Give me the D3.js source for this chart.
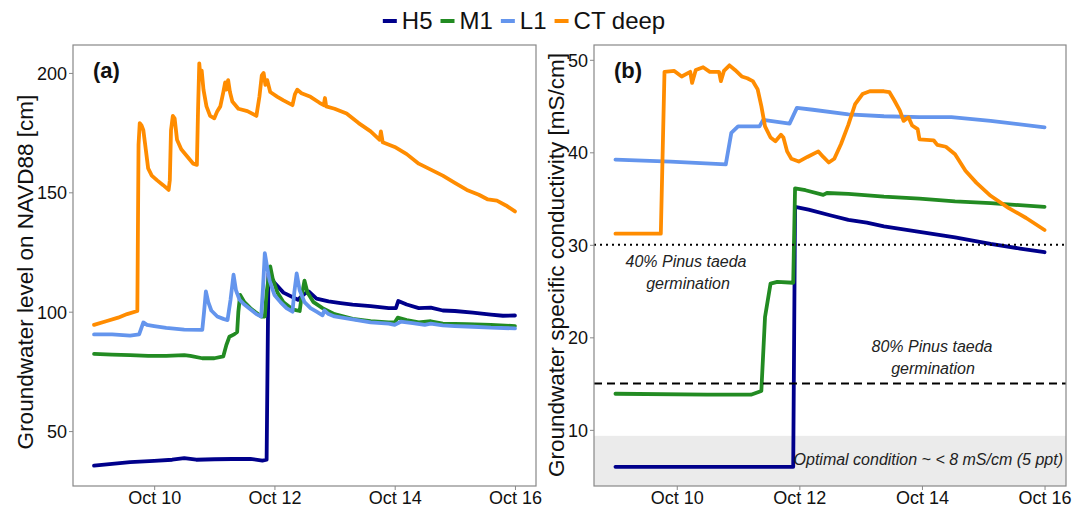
<!DOCTYPE html>
<html>
<head>
<meta charset="utf-8">
<script src="https://cdn.jsdelivr.net/npm/d3@7"></script>
<style>
  body { margin: 0; background: #fff; }
  svg { font-family: "Liberation Sans", Arial, sans-serif; }
</style>
</head>
<body>
<div id="chart"></div>
<script>
// [day of October, value]
const levelH5 = [[9.0,35.5],[9.3,36.3],[9.6,37],[10.0,37.5],[10.3,38],[10.5,38.7],[10.7,38],[11.0,38.2],[11.3,38.3],[11.6,38.4],[11.8,37.6],[11.87,38],[11.9,116],[11.97,113],[12.15,108],[12.39,105],[12.5,107.5],[12.57,108.5],[12.7,105.5],[12.9,104.3],[13.1,103.6],[13.3,103],[13.6,102.3],[13.9,101.5],[14.02,101.5],[14.06,104.5],[14.2,103],[14.4,101.5],[14.6,101.7],[14.8,100.5],[15.0,100.3],[15.3,99.6],[15.6,98.8],[15.8,98.3],[16.0,98.4]];
const levelM1 = [[9.0,82.3],[9.3,82],[9.6,81.8],[9.9,81.5],[10.2,81.5],[10.5,81.8],[10.6,81.5],[10.8,80.5],[11.0,80.5],[11.15,81.3],[11.2,86],[11.25,89.5],[11.33,90.5],[11.38,91.5],[11.4,100],[11.43,107],[11.5,104],[11.6,101.5],[11.7,99.5],[11.78,98],[11.84,98],[11.87,108],[11.93,119],[11.97,114],[12.05,108],[12.15,104],[12.3,101],[12.42,100.3],[12.45,106],[12.5,113],[12.55,108],[12.65,104],[12.8,101.5],[13.0,99],[13.3,97],[13.6,96],[13.9,95.5],[14.0,95.5],[14.05,97.5],[14.2,96.5],[14.4,95.5],[14.6,96],[14.8,95],[15.2,94.8],[15.6,94.5],[16.0,94]];
const levelL1 = [[9.0,90.5],[9.3,90.5],[9.6,90],[9.75,90.5],[9.82,95.5],[9.88,94.5],[10.0,94],[10.2,93.2],[10.5,92.5],[10.8,92.4],[10.83,100],[10.86,108.5],[10.9,104],[10.95,100.5],[11.05,98],[11.15,97],[11.22,96.5],[11.27,105],[11.32,115.5],[11.36,109],[11.42,105],[11.5,103],[11.6,101],[11.7,99],[11.78,98],[11.81,110],[11.84,124.5],[11.87,120],[11.92,113],[12.0,107],[12.1,104],[12.2,101.5],[12.3,100],[12.33,108],[12.37,116],[12.42,109],[12.5,104],[12.6,101.5],[12.7,100],[12.8,98.5],[12.83,100.5],[12.9,99],[13.0,98],[13.3,96.8],[13.6,95.5],[13.9,95],[14.0,94.5],[14.1,95.8],[14.3,95.2],[14.5,94.5],[14.6,95],[14.8,94.3],[15.0,94],[15.3,93.7],[15.6,93.3],[16.0,93]];
const levelCT = [[9.0,94.5],[9.2,96],[9.4,97.5],[9.55,99],[9.72,100.3],[9.74,170],[9.76,179],[9.79,178],[9.82,176],[9.86,168],[9.9,160],[9.96,157],[10.05,155],[10.15,153],[10.24,151],[10.26,155],[10.28,176],[10.31,182],[10.34,181],[10.38,172],[10.45,168],[10.55,165],[10.65,162],[10.71,161.5],[10.73,185],[10.75,204],[10.77,198],[10.79,201],[10.82,193],[10.87,186],[10.93,182],[11.0,181],[11.05,184],[11.1,186],[11.15,192],[11.18,196],[11.2,193],[11.23,197],[11.26,192],[11.3,188],[11.4,185],[11.55,184],[11.7,182],[11.75,190],[11.79,199],[11.82,200],[11.85,195],[11.88,197],[11.93,192],[12.05,190],[12.15,188.5],[12.3,186.5],[12.34,191],[12.38,193],[12.45,191.5],[12.6,190],[12.75,187.5],[12.82,186.5],[12.84,189.5],[12.86,186],[13.0,185],[13.2,183],[13.4,179],[13.6,175.5],[13.75,172],[13.77,175.5],[13.8,171],[14.0,169],[14.2,166],[14.4,162],[14.6,159.5],[14.8,157],[15.0,154],[15.2,151],[15.4,149],[15.55,147],[15.7,146.5],[15.85,144.5],[16.0,142]];

const condH5 = [[9.0,6.0],[10.5,6.0],[11.9,6.0],[11.93,34.1],[12.15,33.8],[12.5,33.2],[12.8,32.7],[13.1,32.4],[13.38,32.0],[13.96,31.4],[14.54,30.8],[15.12,30.1],[15.6,29.6],[16.0,29.2]];
const condM1 = [[9.0,13.9],[10.5,13.8],[11.21,13.8],[11.38,14.2],[11.44,22.2],[11.53,25.8],[11.64,26.0],[11.9,25.9],[11.93,36.1],[12.1,35.9],[12.39,35.4],[12.45,35.6],[12.8,35.5],[13.38,35.2],[13.96,35.0],[14.54,34.7],[15.12,34.5],[16.0,34.1]];
const condL1 = [[9.0,39.2],[9.9,39.0],[10.8,38.7],[10.89,42.1],[11.0,42.8],[11.35,42.8],[11.41,43.5],[11.84,43.1],[11.96,44.8],[12.22,44.6],[12.8,44.1],[13.38,43.9],[13.96,43.8],[14.48,43.8],[15.12,43.4],[16.0,42.7]];
const condCT = [[9.0,31.2],[9.74,31.2],[9.8,48.7],[9.96,48.8],[10.08,48.2],[10.22,48.7],[10.25,47.5],[10.31,48.9],[10.43,49.2],[10.54,48.7],[10.69,48.7],[10.72,47.7],[10.77,48.8],[10.86,49.4],[10.95,48.9],[11.06,48.2],[11.15,48],[11.24,47.7],[11.32,46.8],[11.38,45],[11.44,42.8],[11.53,41.6],[11.61,41.2],[11.7,41.9],[11.74,41.6],[11.8,40.1],[11.87,39.3],[11.99,39],[12.13,39.5],[12.31,40.1],[12.39,39.5],[12.48,38.9],[12.57,39.3],[12.68,40.9],[12.8,43],[12.91,45.2],[13.03,46.3],[13.15,46.6],[13.38,46.6],[13.47,46.5],[13.55,45.6],[13.64,44.5],[13.7,43.4],[13.78,43.8],[13.84,42.9],[13.93,42.5],[13.96,41.4],[14.19,41.3],[14.25,40.8],[14.39,40.6],[14.54,39.8],[14.71,38],[14.89,36.7],[15.12,35.3],[15.41,34],[15.7,32.9],[16.0,31.6]];

const seriesNames = ["H5", "M1", "L1", "CT deep"];
const seriesColors = ["#00008b", "#228b22", "#6495ed", "#ff8c00"];
const dayTicks = [10, 12, 14, 16];
const levelTicks = [50, 100, 150, 200];
const condTicks = [10, 20, 30, 40, 50];
const germ40 = 30;
const germ80 = 15;
const optimalTop = 9.35;

function toDate(day) {
    return new Date(Date.UTC(2018, 9, 1) + (day - 1) * 864e5);
}

const width = 1082, height = 507;
const plotTop = 45, plotBottom = 486;

const svg = d3.select("#chart")
    .append("svg")
    .attr("width", width)
    .attr("height", height);

function drawPanel(opt) {
    const x = d3.scaleUtc()
        .domain([toDate(8.65), toDate(16.35)])
        .range([opt.left, opt.right]);
    const y = d3.scaleLinear()
        .domain(opt.yDomain)
        .range([plotBottom, plotTop]);

    const g = svg.append("g");

    if (opt.before) opt.before(g, x, y);

    // axes
    const xAxis = g.append("g")
        .attr("transform", `translate(0,${plotBottom})`)
        .call(d3.axisBottom(x)
            .tickValues(dayTicks.map(toDate))
            .tickFormat(d3.utcFormat("%b %d"))
            .tickSize(4)
            .tickPadding(1));
    const yAxis = g.append("g")
        .attr("transform", `translate(${opt.left},0)`)
        .call(d3.axisLeft(y)
            .tickValues(opt.ticks)
            .tickSize(4)
            .tickPadding(2));
    [xAxis, yAxis].forEach(a => {
        a.select(".domain").remove();
        a.selectAll(".tick line").attr("stroke", "#888");
        a.selectAll(".tick text")
            .attr("fill", "#111")
            .style("font-size", "18px")
            .style("font-family", "'Liberation Sans', Arial, sans-serif");
    });
    xAxis.selectAll(".tick text").attr("dy", "0.71em");
    yAxis.selectAll(".tick text").attr("dy", "0.36em");

    const line = d3.line()
        .x(d => x(toDate(d[0])))
        .y(d => y(d[1]));

    g.selectAll("path.series")
        .data(opt.series)
        .enter()
        .append("path")
        .attr("class", "series")
        .attr("d", d => line(d))
        .attr("fill", "none")
        .attr("stroke", (d, i) => seriesColors[i])
        .attr("stroke-width", 3.8)
        .attr("stroke-linejoin", "round")
        .attr("stroke-linecap", "round");

    if (opt.after) opt.after(g, x, y);

    g.append("rect")
        .attr("x", opt.left)
        .attr("y", plotTop)
        .attr("width", opt.right - opt.left)
        .attr("height", plotBottom - plotTop)
        .attr("fill", "none")
        .attr("stroke", "#888")
        .attr("stroke-width", 1.2);

    g.append("text")
        .attr("x", opt.left + 20)
        .attr("y", 78)
        .style("font-size", "22px")
        .style("font-weight", "bold")
        .attr("fill", "#111")
        .text(opt.tag);

    g.append("text")
        .attr("transform", `translate(${opt.titleX},${opt.titleY}) rotate(-90)`)
        .attr("text-anchor", "middle")
        .attr("dominant-baseline", "central")
        .style("font-size", "22.5px")
        .attr("fill", "#111")
        .text(opt.title);
}

drawPanel({
    left: 73, right: 536,
    yDomain: [27, 211.7],
    ticks: levelTicks,
    series: [levelH5, levelM1, levelL1, levelCT],
    tag: "(a)",
    title: "Groundwater level on NAVD88 [cm]",
    titleX: 25,
    titleY: 272
});

drawPanel({
    left: 594, right: 1066,
    yDomain: [3.93, 51.6],
    ticks: condTicks,
    series: [condH5, condM1, condL1, condCT],
    tag: "(b)",
    title: "Groundwater specific conductivity [mS/cm]",
    titleX: 556,
    titleY: 265,
    before: function (g, x, y) {
        // optimal band
        g.append("rect")
            .attr("x", 594)
            .attr("y", y(optimalTop))
            .attr("width", 1066 - 594)
            .attr("height", plotBottom - y(optimalTop))
            .attr("fill", "#ebebeb");
    },
    after: function (g, x, y) {
        g.append("line")
            .attr("x1", 594).attr("x2", 1066)
            .attr("y1", y(germ40)).attr("y2", y(germ40))
            .attr("stroke", "#000")
            .attr("stroke-width", 2)
            .attr("stroke-dasharray", "2,4");
        g.append("line")
            .attr("x1", 594).attr("x2", 1066)
            .attr("y1", y(germ80)).attr("y2", y(germ80))
            .attr("stroke", "#000")
            .attr("stroke-width", 2)
            .attr("stroke-dasharray", "8,5");

        const notes = [
            { x: 686, y: 267, t: "40% Pinus taeda" },
            { x: 688, y: 289, t: "germination" },
            { x: 932, y: 352, t: "80% Pinus taeda" },
            { x: 933, y: 374, t: "germination" }
        ];
        g.selectAll("text.note")
            .data(notes)
            .enter()
            .append("text")
            .attr("class", "note")
            .attr("x", d => d.x)
            .attr("y", d => d.y)
            .attr("text-anchor", "middle")
            .style("font-size", "16px")
            .style("font-style", "italic")
            .attr("fill", "#222")
            .text(d => d.t);

        g.append("text")
            .attr("x", 1063)
            .attr("y", 465)
            .attr("text-anchor", "end")
            .style("font-size", "16px")
            .style("font-style", "italic")
            .attr("fill", "#222")
            .text("Optimal condition ~ < 8 mS/cm (5 ppt)");
    }
});

// legend across the top, centred
const legend = svg.append("g");
let lx = 0;
seriesNames.forEach((name, i) => {
    legend.append("line")
        .attr("x1", lx).attr("x2", lx + 14)
        .attr("y1", 0).attr("y2", 0)
        .attr("stroke", seriesColors[i])
        .attr("stroke-width", 4);
    const t = legend.append("text")
        .attr("x", lx + 19)
        .attr("y", 0)
        .attr("dy", "0.35em")
        .style("font-size", "24px")
        .attr("fill", "#111")
        .text(name);
    lx += 19 + t.node().getComputedTextLength() + 8;
});
legend.attr("transform", `translate(${524 - (lx - 8) / 2},21)`);
</script>
</body>
</html>
